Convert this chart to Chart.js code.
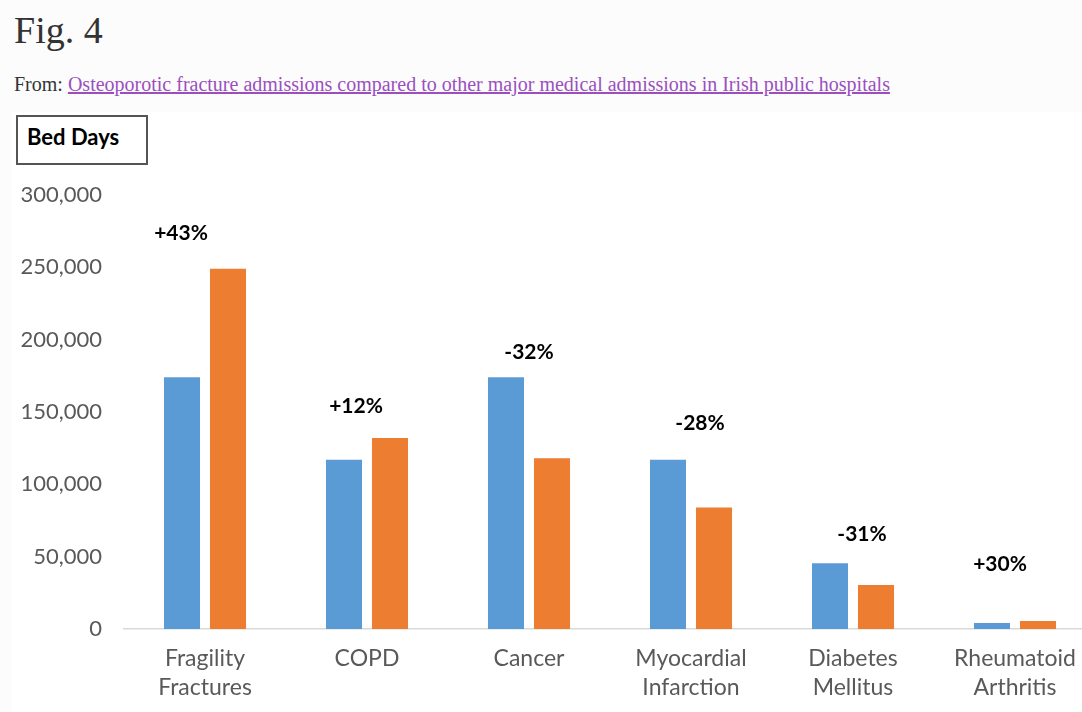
<!DOCTYPE html>
<html>
<head>
<meta charset="utf-8">
<script src="https://cdn.jsdelivr.net/npm/chart.js@4"></script>
<style>
    html, body { margin: 0; padding: 0; }
    body {
        width: 1082px;
        height: 712px;
        overflow: hidden;
        background: #fcfcfc;
        position: relative;
        font-family: "Liberation Serif", serif;
    }
    .fig-title {
        position: absolute;
        left: 14px;
        top: 8px;
        font-size: 38px;
        color: #333;
    }
    .fig-from {
        position: absolute;
        left: 14px;
        top: 73px;
        font-size: 20px;
        color: #333;
        white-space: nowrap;
    }
    .fig-from a { color: #9b4fbf; text-decoration: underline; }
    .chart-img {
        position: absolute;
        left: 12px;
        top: 112px;
        width: 1100px;
        height: 600px;
        background: #fff;
    }
    .unit-box {
        position: absolute;
        left: 4px;
        top: 3px;
        width: 132px;
        height: 50px;
        border: 2px solid #555;
        font-family: Lato, sans-serif;
        font-weight: bold;
        font-size: 22px;
        color: #000;
        box-sizing: border-box;
        padding: 6px 0 0 9px;
        background: #fff;
        z-index: 2;
    }
</style>
</head>
<body>
<div class="fig-title">Fig. 4</div>
<div class="fig-from">From: <a href="#">Osteoporotic fracture admissions compared to other major medical admissions in Irish public hospitals</a></div>
<div class="chart-img">
    <div class="unit-box">Bed Days</div>
    <canvas id="bedChart" width="1100" height="600"></canvas>
</div>
<script>
// values (bed days)
const categories = [
    ['Fragility', 'Fractures'],
    'COPD',
    'Cancer',
    ['Myocardial', 'Infarction'],
    ['Diabetes', 'Mellitus'],
    ['Rheumatoid', 'Arthritis']
];
const firstPeriod = [174000, 117000, 174000, 117000, 45500, 4200];
const secondPeriod = [249000, 132000, 118000, 84000, 30500, 5500];
const changeLabels = ['+43%', '+12%', '-32%', '-28%', '-31%', '+30%'];
const yTicks = [0, 50000, 100000, 150000, 200000, 250000, 300000];

const LABEL_FONT = 'Lato, sans-serif';

// where each change label sits relative to its group (pixels)
const changeDx = [-24, -11, 0, 9, 9, -15];
const changeGap = [36, 32, 25, 37, 29, 57];

const changePlugin = {
    id: 'changeLabels',
    afterDatasetsDraw(chart) {
        const ctx = chart.ctx;
        const x = chart.scales.x;
        const y = chart.scales.y;
        ctx.save();
        ctx.font = 'bold 21px ' + LABEL_FONT;
        ctx.fillStyle = '#000';
        ctx.textAlign = 'center';
        ctx.textBaseline = 'middle';
        changeLabels.forEach((txt, i) => {
            const top = y.getPixelForValue(Math.max(firstPeriod[i], secondPeriod[i]));
            ctx.fillText(txt, x.getPixelForValue(i) + changeDx[i], top - changeGap[i]);
        });
        ctx.restore();
    }
};

new Chart(document.getElementById('bedChart'), {
    type: 'bar',
    data: {
        labels: categories,
        datasets: [
            { label: 'Earlier', data: firstPeriod, backgroundColor: '#5b9bd5' },
            { label: 'Later', data: secondPeriod, backgroundColor: '#ed7d31' }
        ]
    },
    options: {
        responsive: false,
        animation: false,
        categoryPercentage: 0.568,
        barPercentage: 0.783,
        layout: { padding: { top: 83, right: 16, left: 0, bottom: 0 } },
        plugins: {
            legend: { display: false },
            tooltip: { enabled: false }
        },
        scales: {
            x: {
                grid: { display: false, drawTicks: false },
                border: { display: true, color: '#d9d9d9', width: 1.5 },
                ticks: {
                    color: '#595959',
                    padding: 15,
                    maxRotation: 0,
                    autoSkip: false,
                    font: { family: LABEL_FONT, size: 23, lineHeight: 1.27 }
                },
                afterFit(scale) { scale.height = 83; }
            },
            y: {
                min: 0,
                max: 300000,
                afterBuildTicks(scale) {
                    scale.ticks = yTicks.map(v => ({ value: v }));
                },
                grid: { display: false, drawTicks: false },
                border: { display: false },
                ticks: {
                    color: '#595959',
                    padding: 22,
                    font: { family: LABEL_FONT, size: 22 },
                    callback: v => v.toLocaleString('en-US')
                },
                afterFit(scale) { scale.width = 112; }
            }
        }
    },
    plugins: [changePlugin]
});
</script>
</body>
</html>
